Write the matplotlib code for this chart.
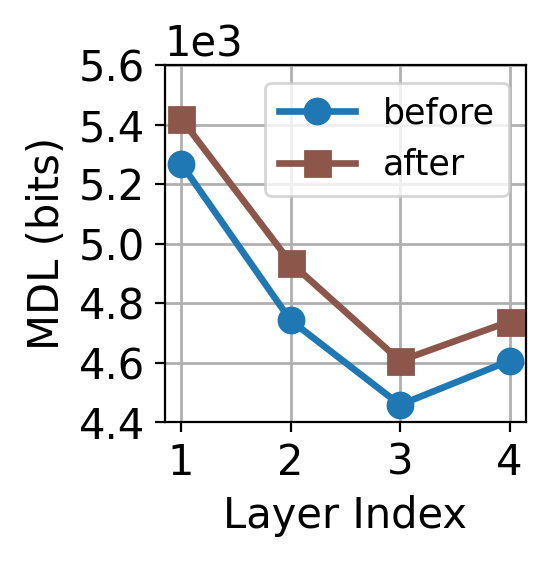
import matplotlib

matplotlib.use("Agg")
import matplotlib.pyplot as plt

# layer indices and MDL values (bits)
layers = [1, 2, 3, 4]
mdl_before = [5269, 4742, 4458, 4606]
mdl_after = [5420, 4936, 4606, 4738]
y_ticks = [4400, 4600, 4800, 5000, 5200, 5400, 5600]

fig, ax = plt.subplots(figsize=(2.745, 2.81), dpi=200)
fig.subplots_adjust(left=0.300, right=0.958, top=0.884, bottom=0.249)

ax.plot(layers, mdl_before, color="#1f77b4", marker="o", lw=2.4, ms=9, label="before")
ax.plot(layers, mdl_after, color="#8c564b", marker="s", lw=2.4, ms=9, label="after")

ax.set_ylim(4400, 5600)
ax.set_yticks(y_ticks)
ax.set_xticks(layers)
ax.ticklabel_format(axis="y", style="sci", scilimits=(3, 3))
ax.yaxis.get_offset_text().set_fontsize(15)
ax.tick_params(labelsize=15)
ax.set_xlabel("Layer Index", fontsize=15)
ax.set_ylabel("MDL (bits)", fontsize=15)
ax.grid(True, lw=1.0)
ax.legend(loc="upper right", fontsize=12.5, handlelength=2.2)

fig.savefig("out.png", dpi=200)
